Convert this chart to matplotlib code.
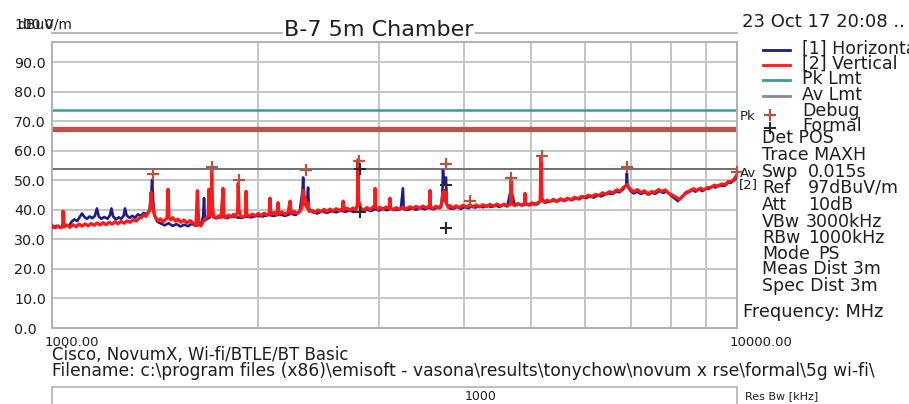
import matplotlib
matplotlib.use('Agg')
import matplotlib.pyplot as plt
from matplotlib.lines import Line2D
from matplotlib.patches import Rectangle
from matplotlib.ticker import NullFormatter

plt.rcParams['font.family'] = ['DejaVu Sans']

# ---------------- data ----------------
red_freq = [1000, 1010, 1020, 1030, 1036, 1038, 1041, 1052, 1062, 1073, 1084, 1095, 1106, 1118, 1129,
            1140, 1152, 1164, 1175, 1187, 1199, 1212, 1224, 1236, 1248, 1261, 1274, 1287, 1300, 1313,
            1326, 1340, 1353, 1362, 1371, 1380, 1390, 1395, 1399, 1403, 1409, 1418, 1428, 1440, 1452,
            1464, 1472, 1477, 1482, 1490, 1500, 1514, 1527, 1542, 1558, 1574, 1590, 1608, 1622, 1630,
            1638, 1650, 1660, 1667, 1675, 1690, 1694, 1699, 1705, 1711, 1716, 1722, 1735, 1750, 1765,
            1777, 1782, 1795, 1810, 1825, 1840, 1855, 1866, 1870, 1875, 1885, 1900, 1916, 1920, 1925,
            1940, 1960, 1980, 2000, 2020, 2040, 2060, 2075, 2081, 2087, 2110, 2130, 2138, 2145, 2168,
            2190, 2212, 2226, 2235, 2257, 2280, 2300, 2315, 2322, 2326, 2332, 2340, 2349, 2360, 2365,
            2372, 2397, 2420, 2446, 2470, 2495, 2520, 2546, 2570, 2598, 2630, 2655, 2660, 2668, 2695,
            2723, 2750, 2775, 2790, 2797, 2803, 2812, 2825, 2854, 2880, 2912, 2940, 2960, 2963, 2967,
            2990, 3012, 3040, 3073, 3110, 3115, 3120, 3150, 3178, 3215, 3253, 3290, 3331, 3365, 3399,
            3440, 3480, 3520, 3555, 3563, 3570, 3600, 3635, 3680, 3710, 3722, 3735, 3750, 3760, 3768,
            3790, 3810, 3850, 3888, 3930, 3981, 4030, 4076, 4115, 4159, 4210, 4258, 4310, 4359, 4410,
            4463, 4515, 4569, 4620, 4670, 4677, 4684, 4730, 4789, 4845, 4895, 4903, 4911, 4960, 5019,
            5070, 5120, 5160, 5174, 5188, 5230, 5280, 5333, 5395, 5460, 5525, 5590, 5655, 5723, 5790,
            5859, 5930, 5998, 6070, 6141, 6215, 6287, 6360, 6436, 6510, 6590, 6670, 6747, 6820, 6880,
            6907, 6940, 6990, 7071, 7150, 7240, 7325, 7412, 7500, 7588, 7680, 7768, 7860, 7953, 8050,
            8142, 8240, 8336, 8430, 8534, 8635, 8737, 8840, 8945, 9050, 9157, 9265, 9375, 9490, 9605,
            9700, 9800, 9900, 10000]
red_level = [34.8, 33.9, 34.6, 34.0, 34.5, 39.6, 34.2, 34.9, 34.1, 35.0, 34.3, 35.2, 34.5, 35.3, 34.6,
             35.4, 34.8, 35.6, 34.9, 35.7, 35.0, 35.8, 35.2, 36.0, 35.3, 36.1, 35.5, 36.3, 35.8, 36.7,
             36.2, 37.2, 37.6, 38.4, 37.8, 39.0, 40.0, 46.0, 43.0, 41.5, 38.6, 37.2, 36.3, 37.0, 36.0,
             36.8, 37.2, 47.0, 37.5, 36.6, 37.4, 36.2, 36.9, 35.8, 36.6, 35.6, 36.4, 35.5, 34.8, 46.5,
             35.0, 34.6, 35.8, 36.5, 37.0, 38.0, 47.0, 38.0, 38.5, 53.5, 40.0, 38.0, 37.2, 38.0, 37.4,
             47.3, 38.2, 37.5, 38.3, 37.6, 38.5, 37.8, 39.5, 49.0, 40.0, 38.0, 37.5, 38.2, 46.3, 38.5,
             37.8, 38.6, 38.0, 38.8, 38.1, 38.9, 38.3, 39.0, 44.0, 38.6, 39.2, 38.4, 42.5, 38.8, 39.3,
             38.5, 39.4, 43.0, 38.8, 39.5, 38.8, 39.6, 40.5, 45.0, 46.6, 42.0, 44.0, 41.5, 40.5, 42.5,
             39.5, 39.8, 39.2, 40.0, 39.4, 40.2, 39.5, 40.3, 39.7, 40.4, 39.8, 40.5, 43.0, 40.0, 40.6,
             39.9, 40.7, 40.0, 41.5, 57.0, 43.0, 42.0, 40.5, 40.0, 40.8, 40.1, 40.9, 41.5, 47.3, 41.0,
             40.2, 40.9, 40.3, 41.0, 40.5, 44.0, 40.6, 40.0, 40.8, 40.2, 41.0, 40.4, 41.1, 40.5, 41.2,
             40.6, 41.3, 40.7, 41.5, 46.6, 41.0, 40.5, 41.3, 40.6, 42.5, 46.0, 44.5, 43.0, 47.0, 42.0,
             40.8, 41.5, 40.7, 41.4, 40.8, 41.6, 40.9, 41.8, 41.0, 41.7, 41.0, 41.8, 41.1, 41.9, 41.2,
             42.0, 41.3, 42.0, 41.4, 42.0, 50.0, 42.2, 41.5, 42.2, 41.6, 42.3, 45.6, 42.0, 41.7, 42.4,
             41.8, 42.5, 43.0, 57.9, 43.5, 42.6, 43.3, 42.8, 43.6, 43.0, 43.8, 43.2, 44.0, 43.4, 44.3,
             43.8, 44.6, 44.3, 45.0, 44.5, 45.3, 44.8, 45.8, 45.4, 46.2, 45.8, 46.8, 46.4, 47.6, 48.2,
             48.6, 47.9, 47.0, 46.2, 46.9, 45.9, 46.5, 45.5, 46.2, 46.0, 46.9, 46.3, 46.8, 45.6, 45.0,
             44.3, 43.6, 44.8, 46.0, 46.5, 47.2, 46.6, 47.4, 46.8, 47.6, 47.6, 48.4, 48.0, 48.8, 48.6,
             49.5, 49.6, 50.4, 52.0]

blue_freq = [1000, 1015, 1030, 1045, 1058, 1068, 1078, 1088, 1097, 1106, 1115, 1125, 1135, 1145, 1155,
             1163, 1170, 1180, 1192, 1205, 1215, 1221, 1228, 1240, 1252, 1262, 1272, 1278, 1285, 1298,
             1310, 1322, 1335, 1348, 1360, 1375, 1388, 1396, 1400, 1405, 1412, 1425, 1440, 1460, 1480,
             1500, 1520, 1540, 1560, 1580, 1600, 1620, 1640, 1655, 1662, 1667, 1672, 1685, 1700, 1711,
             1720, 1745, 1770, 1800, 1830, 1860, 1890, 1920, 1950, 1990, 2030, 2070, 2110, 2150, 2190,
             2230, 2270, 2300, 2322, 2326, 2332, 2340, 2350, 2358, 2365, 2372, 2400, 2440, 2480, 2520,
             2560, 2600, 2640, 2680, 2720, 2760, 2790, 2797, 2805, 2840, 2880, 2920, 2960, 3000, 3040,
             3080, 3130, 3180, 3230, 3253, 3262, 3300, 3350, 3400, 3450, 3500, 3550, 3600, 3650, 3700,
             3715, 3722, 3735, 3750, 3759, 3768, 3800, 3850, 3900, 3950, 4000, 4050, 4100, 4150, 4200,
             4260, 4320, 4380, 4440, 4500, 4560, 4620, 4677, 4740, 4800, 4860, 4920, 4980, 5050, 5110,
             5165, 5174, 5185, 5250, 5320, 5390, 5460, 5530, 5600, 5670, 5740, 5810, 5880, 5950, 6020,
             6100, 6180, 6260, 6340, 6420, 6500, 6580, 6660, 6740, 6820, 6895, 6907, 6920, 6990, 7070,
             7150, 7240, 7330, 7420, 7510, 7600, 7700, 7800, 7900, 8000, 8100, 8200, 8300, 8400, 8500,
             8600, 8700, 8800, 8900, 9000, 9100, 9200, 9300, 9400, 9500, 9600, 9700, 9800, 9900, 10000]
blue_level = [34.0, 34.6, 33.9, 35.0, 34.5, 36.0, 36.8, 36.2, 37.5, 38.8, 37.6, 37.0, 37.8, 37.2, 38.0,
              40.5, 37.8, 37.0, 37.6, 37.0, 38.2, 40.5, 37.8, 36.8, 37.5, 37.0, 38.0, 40.5, 38.2, 37.3,
              38.0, 37.4, 38.5, 38.0, 39.0, 38.5, 40.0, 45.0, 50.2, 43.0, 38.0, 36.0, 35.5, 34.8, 35.5,
              34.6, 35.2, 34.4, 35.0, 34.5, 35.3, 34.6, 35.0, 36.0, 38.0, 44.0, 36.5, 37.0, 37.5, 45.0,
              37.5, 37.3, 37.8, 37.2, 37.9, 37.5, 37.3, 37.8, 37.5, 38.0, 37.8, 38.3, 38.0, 38.5, 38.0,
              38.7, 38.3, 39.5, 47.0, 51.0, 45.0, 44.0, 42.5, 43.5, 47.6, 40.5, 39.3, 38.8, 39.6, 39.0,
              39.6, 39.2, 39.8, 39.4, 39.8, 39.3, 41.0, 54.0, 42.0, 39.6, 40.2, 39.6, 40.3, 39.8, 40.4,
              39.9, 40.5, 40.0, 40.3, 47.3, 40.3, 40.0, 40.6, 40.1, 40.7, 40.2, 40.8, 40.2, 40.8, 41.0,
              46.0, 53.4, 49.0, 48.5, 51.0, 42.0, 40.6, 40.4, 41.0, 40.4, 41.0, 40.6, 41.2, 40.8, 41.3,
              40.9, 41.5, 41.0, 41.6, 41.0, 41.7, 41.2, 47.0, 41.4, 42.0, 41.5, 42.0, 41.6, 42.2, 41.9,
              43.0, 55.7, 44.0, 42.5, 42.8, 43.2, 42.8, 43.5, 43.0, 43.8, 43.3, 44.0, 43.6, 44.4, 44.0,
              44.6, 44.2, 45.0, 44.6, 45.3, 45.6, 45.4, 46.2, 46.0, 47.0, 48.5, 52.4, 48.0, 46.5, 45.6,
              46.2, 45.4, 46.0, 45.2, 45.8, 45.5, 46.4, 45.8, 46.2, 45.0, 44.0, 43.0, 44.2, 45.5, 46.0,
              46.8, 46.2, 47.0, 46.4, 47.2, 47.2, 48.0, 47.6, 48.4, 48.2, 48.2, 49.2, 49.2, 50.0, 51.0]

debug_freq = [1404, 1710, 1872, 2349, 2805, 3759, 4076, 4677, 5200, 6920, 10000]
debug_level = [52.3, 54.5, 50.3, 53.4, 56.5, 55.6, 43.0, 50.9, 58.4, 54.4, 52.8]
formal_freq = [2816, 2816, 3759, 3759]
formal_level = [54.0, 39.3, 48.3, 33.8]

pk_limit = 74.0
av_limit = 54.0
band_limit = 67.3

y_ticks = [0, 10, 20, 30, 40, 50, 60, 70, 80, 90]
y_tick_labels = ['0.0', '10.0', '20.0', '30.0', '40.0', '50.0', '60.0', '70.0', '80.0', '90.0']
grid_freqs = [2000, 3000, 4000, 5000, 6000, 7000, 8000, 9000]

info_labels = ['Det POS', 'Trace MAXH', 'Swp', 'Ref', 'Att', 'VBw', 'RBw', 'Mode', 'Meas Dist 3m', 'Spec Dist 3m']
info_values = ['', '', '0.015s', '97dBuV/m', '10dB', '3000kHz', '1000kHz', 'PS', '', '']

# ---------------- figure ----------------
W, H = 909, 404
fig = plt.figure(figsize=(W / 100, H / 100), dpi=100)


def fx(px):
    return px / W


def fy(py):
    return 1 - py / H


TXT = '#1e1e1e'
GRID = '#c4c4c4'

ax = fig.add_axes([fx(52), fy(328), fx(737) - fx(52), fy(41.7) - fy(328)])
ax.set_xscale('log')
ax.set_xlim(1000, 10000)
ax.set_ylim(0, 97)

ax.set_xticks([1000, 10000])
ax.set_xticklabels(['', ''])
ax.set_xticks(grid_freqs, minor=True)
ax.xaxis.set_minor_formatter(NullFormatter())
ax.set_yticks(y_ticks)
ax.set_yticklabels(y_tick_labels)
ax.tick_params(axis='both', which='both', length=0)
ax.tick_params(axis='y', pad=27.4, labelsize=10.3, labelcolor=TXT)
for lab in ax.get_yticklabels():
    lab.set_horizontalalignment('left')
ax.grid(True, which='major', axis='y', color=GRID, lw=1.4)
ax.grid(True, which='minor', axis='x', color=GRID, lw=1.4)
ax.set_axisbelow(True)
for s in ax.spines.values():
    s.set_color('#b0b0b0')
    s.set_linewidth(1.4)

# limit lines
ax.axhline(pk_limit, color='#3a9d8f', lw=1.8, zorder=2)
ax.axhline(band_limit, color='#c0504d', lw=3.8, zorder=2)
ax.axhline(av_limit, color='#707070', lw=1.4, zorder=2)

# traces
ax.plot(blue_freq, blue_level, color='#1c1c8a', lw=1.9, zorder=3)
ax.plot(red_freq, red_level, color='#ff1a1a', lw=2.3, zorder=4)

# markers
ax.plot(debug_freq, debug_level, ls='none', marker='+', ms=9, mew=1.6,
        color='#b4553f', zorder=5, clip_on=False)
ax.plot(formal_freq, formal_level, ls='none', marker='+', ms=8, mew=1.5,
        color='#2a2a2a', zorder=5, clip_on=False)

# top 100 dB line above the frame
ax.plot([1000, 10000], [100, 100], color='#b0b0b0', lw=1.3, clip_on=False, zorder=1)

# y-axis top label overlapping unit
fig.text(fx(14), fy(25), '100.0', fontsize=10, color=TXT, va='center', ha='left')
fig.text(fx(17), fy(25), 'dBuV/m', fontsize=10, color=TXT, va='center', ha='left')

# x labels
fig.text(fx(45), fy(342), '1000.00', fontsize=9.5, color=TXT, va='center', ha='left')
fig.text(fx(730), fy(342), '10000.00', fontsize=9.5, color=TXT, va='center', ha='left')

# title & date
fig.text(fx(379), fy(30), 'B-7 5m Chamber', fontsize=16, color=TXT, ha='center', va='center',
         bbox=dict(facecolor='white', edgecolor='none', pad=1))
fig.text(fx(742), fy(22), '23 Oct 17 20:08 ..', fontsize=13, color=TXT, ha='left', va='center')

# legend
leg_items = [('[1] Horizontal', '#1c1c8a', 50), ('[2] Vertical', '#ff1a1a', 65),
             ('Pk Lmt', '#3a9d8f', 80), ('Av Lmt', '#8a8a8a', 95.5)]
for name, col, py in leg_items:
    fig.add_artist(Line2D([fx(763), fx(790)], [fy(py), fy(py)], color=col, lw=2))
    fig.text(fx(802), fy(py - 1), name, fontsize=12.5, color=TXT, ha='left', va='center')
fig.add_artist(Line2D([fx(770)], [fy(115)], marker='+', ms=9, mew=1.6, color='#b4553f'))
fig.text(fx(802), fy(111), 'Debug', fontsize=12.5, color=TXT, ha='left', va='center')
fig.add_artist(Line2D([fx(770)], [fy(128)], marker='+', ms=8, mew=1.5, color='#2a2a2a'))
fig.text(fx(802), fy(126), 'Formal', fontsize=12.5, color=TXT, ha='left', va='center')
fig.text(fx(740), fy(117), 'Pk', fontsize=9.5, color=TXT, ha='left', va='center')
fig.text(fx(740), fy(174), 'Av', fontsize=9.5, color=TXT, ha='left', va='center')
fig.text(fx(739), fy(185), '[2]', fontsize=9.5, color=TXT, ha='left', va='center')

# instrument info
info_y = [138, 155, 172, 188, 205, 222, 238, 254, 269, 286]
value_x = [808, 808, 808, 808, 808, 806, 808, 818, 808, 808]
for lab, val, py, vx in zip(info_labels, info_values, info_y, value_x):
    fig.text(fx(762), fy(py), lab, fontsize=12.5, color=TXT, ha='left', va='center')
    if val:
        fig.text(fx(vx), fy(py), val, fontsize=12.5, color=TXT, ha='left', va='center')
fig.text(fx(743), fy(312), 'Frequency: MHz', fontsize=12.8, color=TXT, ha='left', va='center')

# bottom text
fig.text(fx(52), fy(355), 'Cisco, NovumX, Wi-fi/BTLE/BT Basic', fontsize=12, color=TXT,
         ha='left', va='center')
fig.text(fx(52), fy(371), 'Filename: c:\\program files (x86)\\emisoft - vasona\\results\\tonychow\\novum x rse\\formal\\5g wi-fi\\',
         fontsize=12.3, color=TXT, ha='left', va='center')

# res bw strip
fig.add_artist(Rectangle((fx(52), fy(406)), fx(737) - fx(52), fy(387) - fy(406),
                         facecolor='white', edgecolor='#b0b0b0', lw=1.2))
fig.text(fx(481), fy(396), '1000', fontsize=9, color=TXT, ha='center', va='center')
fig.text(fx(745), fy(396), 'Res Bw [kHz]', fontsize=8, color=TXT, ha='left', va='center')

fig.savefig('out.png', dpi=100)
